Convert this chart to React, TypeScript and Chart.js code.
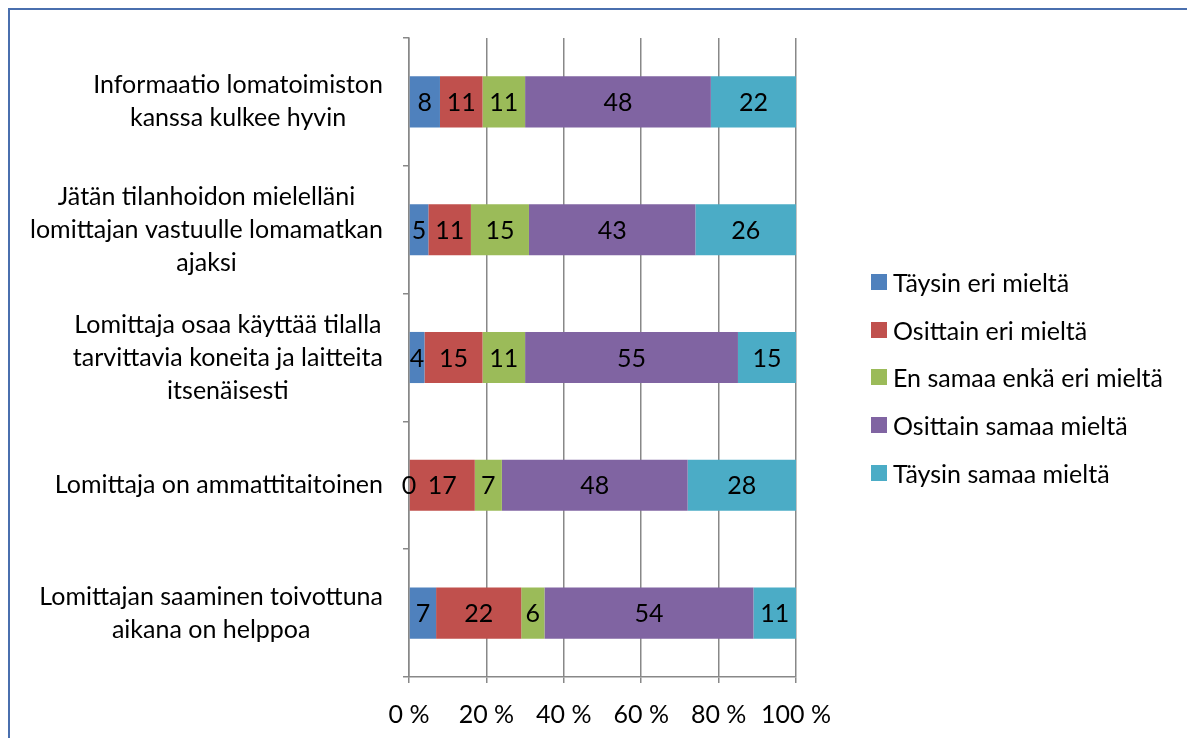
import React, { useEffect, useRef } from "react";
import { Chart, registerables } from "chart.js";

Chart.register(...registerables);

const categories: string[][] = [
  ["Informaatio lomatoimiston", "kanssa kulkee hyvin"],
  ["Jätän tilanhoidon mielelläni", "lomittajan vastuulle lomamatkan", "ajaksi"],
  ["Lomittaja osaa käyttää tilalla", "tarvittavia koneita ja laitteita", "itsenäisesti"],
  ["Lomittaja on ammattitaitoinen"],
  ["Lomittajan saaminen toivottuna", "aikana on helppoa"],
];

const seriesNames = [
  "Täysin eri mieltä",
  "Osittain eri mieltä",
  "En samaa enkä eri mieltä",
  "Osittain samaa mieltä",
  "Täysin samaa mieltä",
];

const taysinEri = [8, 5, 4, 0, 7];
const osittainEri = [11, 11, 15, 17, 22];
const enSamaaEnkaEri = [11, 15, 11, 7, 6];
const osittainSamaa = [48, 43, 55, 48, 54];
const taysinSamaa = [22, 26, 15, 28, 11];

const seriesValues = [taysinEri, osittainEri, enSamaaEnkaEri, osittainSamaa, taysinSamaa];
const seriesColors = ["#4F81BD", "#C0504D", "#9BBB59", "#8064A2", "#4BACC6"];

const xTicks = [0, 20, 40, 60, 80, 100];

const FONT = "Lato";
const FSIZE = 25;
const GRID = "#888888";

const valueLabels = {
  id: "valueLabels",
  afterDatasetsDraw(chart: any) {
    const ctx = chart.ctx;
    ctx.save();
    ctx.font = `${FSIZE}px ${FONT}`;
    ctx.fillStyle = "#000";
    ctx.textAlign = "center";
    ctx.textBaseline = "middle";
    chart.data.datasets.forEach((ds: any, di: number) => {
      const meta = chart.getDatasetMeta(di);
      meta.data.forEach((bar: any, i: number) => {
        const v = ds.data[i];
        const cx = (bar.x + bar.base) / 2;
        ctx.fillText(String(v), cx, bar.y + 1);
      });
    });
    ctx.restore();
  },
};

const categoryLabels = {
  id: "categoryLabels",
  afterDraw(chart: any) {
    const ctx = chart.ctx;
    const yScale = chart.scales.y;
    const right = chart.chartArea.left - 26;
    const lh = 33;
    ctx.save();
    ctx.font = `${FSIZE}px ${FONT}`;
    ctx.fillStyle = "#000";
    ctx.textAlign = "center";
    ctx.textBaseline = "middle";
    categories.forEach((lines, i) => {
      const cy = yScale.getPixelForValue(i);
      const maxW = Math.max(...lines.map((l) => ctx.measureText(l).width));
      const cx = right - maxW / 2;
      const start = cy - ((lines.length - 1) * lh) / 2;
      lines.forEach((l, j) => ctx.fillText(l, cx, start + j * lh));
    });
    ctx.restore();
  },
};

export default function App() {
  const ref = useRef<HTMLCanvasElement>(null);
  useEffect(() => {
    if (!ref.current) return;
    const chart = new Chart(ref.current, {
      type: "bar",
      data: {
        labels: categories.map((c) => c.join(" ")),
        datasets: seriesNames.map((name, k) => ({
          label: name,
          data: seriesValues[k],
          backgroundColor: seriesColors[k],
          borderWidth: 0,
          categoryPercentage: 1,
          barPercentage: 0.4,
        })),
      },
      options: {
        indexAxis: "y",
        animation: false,
        responsive: false,
        layout: { padding: { left: 0, top: 28, right: 392, bottom: 0 } },
        plugins: { legend: { display: false }, tooltip: { enabled: false } },
        scales: {
          x: {
            stacked: true,
            min: 0,
            max: 100,
            afterBuildTicks: (s: any) => {
              s.ticks = xTicks.map((v) => ({ value: v }));
            },
            afterFit: (s: any) => {
              s.height = 73;
            },
            ticks: {
              callback: (v: any) => `${v} %`,
              font: { family: FONT, size: FSIZE },
              color: "#000",
              padding: 17,
              maxRotation: 0,
            },
            grid: { color: GRID, lineWidth: 1.5, tickLength: 6, drawOnChartArea: true },
            border: { display: true, color: GRID, width: 1.5 },
          },
          y: {
            stacked: true,
            offset: true,
            afterFit: (s: any) => {
              s.width = 399;
            },
            ticks: { display: false },
            grid: { offset: true, drawOnChartArea: false, color: GRID, lineWidth: 1.5, tickLength: 6 },
            border: { display: true, color: GRID, width: 1.5 },
          },
        },
      },
      plugins: [valueLabels, categoryLabels],
    });
    return () => chart.destroy();
  }, []);

  return (
    <div
      style={{
        position: "relative",
        width: 1178,
        height: 740,
        border: "2px solid #4A6FAE",
        background: "#fff",
      }}
    >
      <canvas ref={ref} width={1178} height={740} style={{ display: "block" }} />
      <div style={{ position: "absolute", left: 861, top: 248, fontFamily: FONT, fontSize: FSIZE, color: "#000" }}>
        {seriesNames.map((name, k) => (
          <div key={name} style={{ height: 47.75, display: "flex", alignItems: "center", whiteSpace: "nowrap" }}>
            <span style={{ width: 16, height: 16, background: seriesColors[k], display: "inline-block", marginRight: 6 }} />
            <span>{name}</span>
          </div>
        ))}
      </div>
    </div>
  );
}
